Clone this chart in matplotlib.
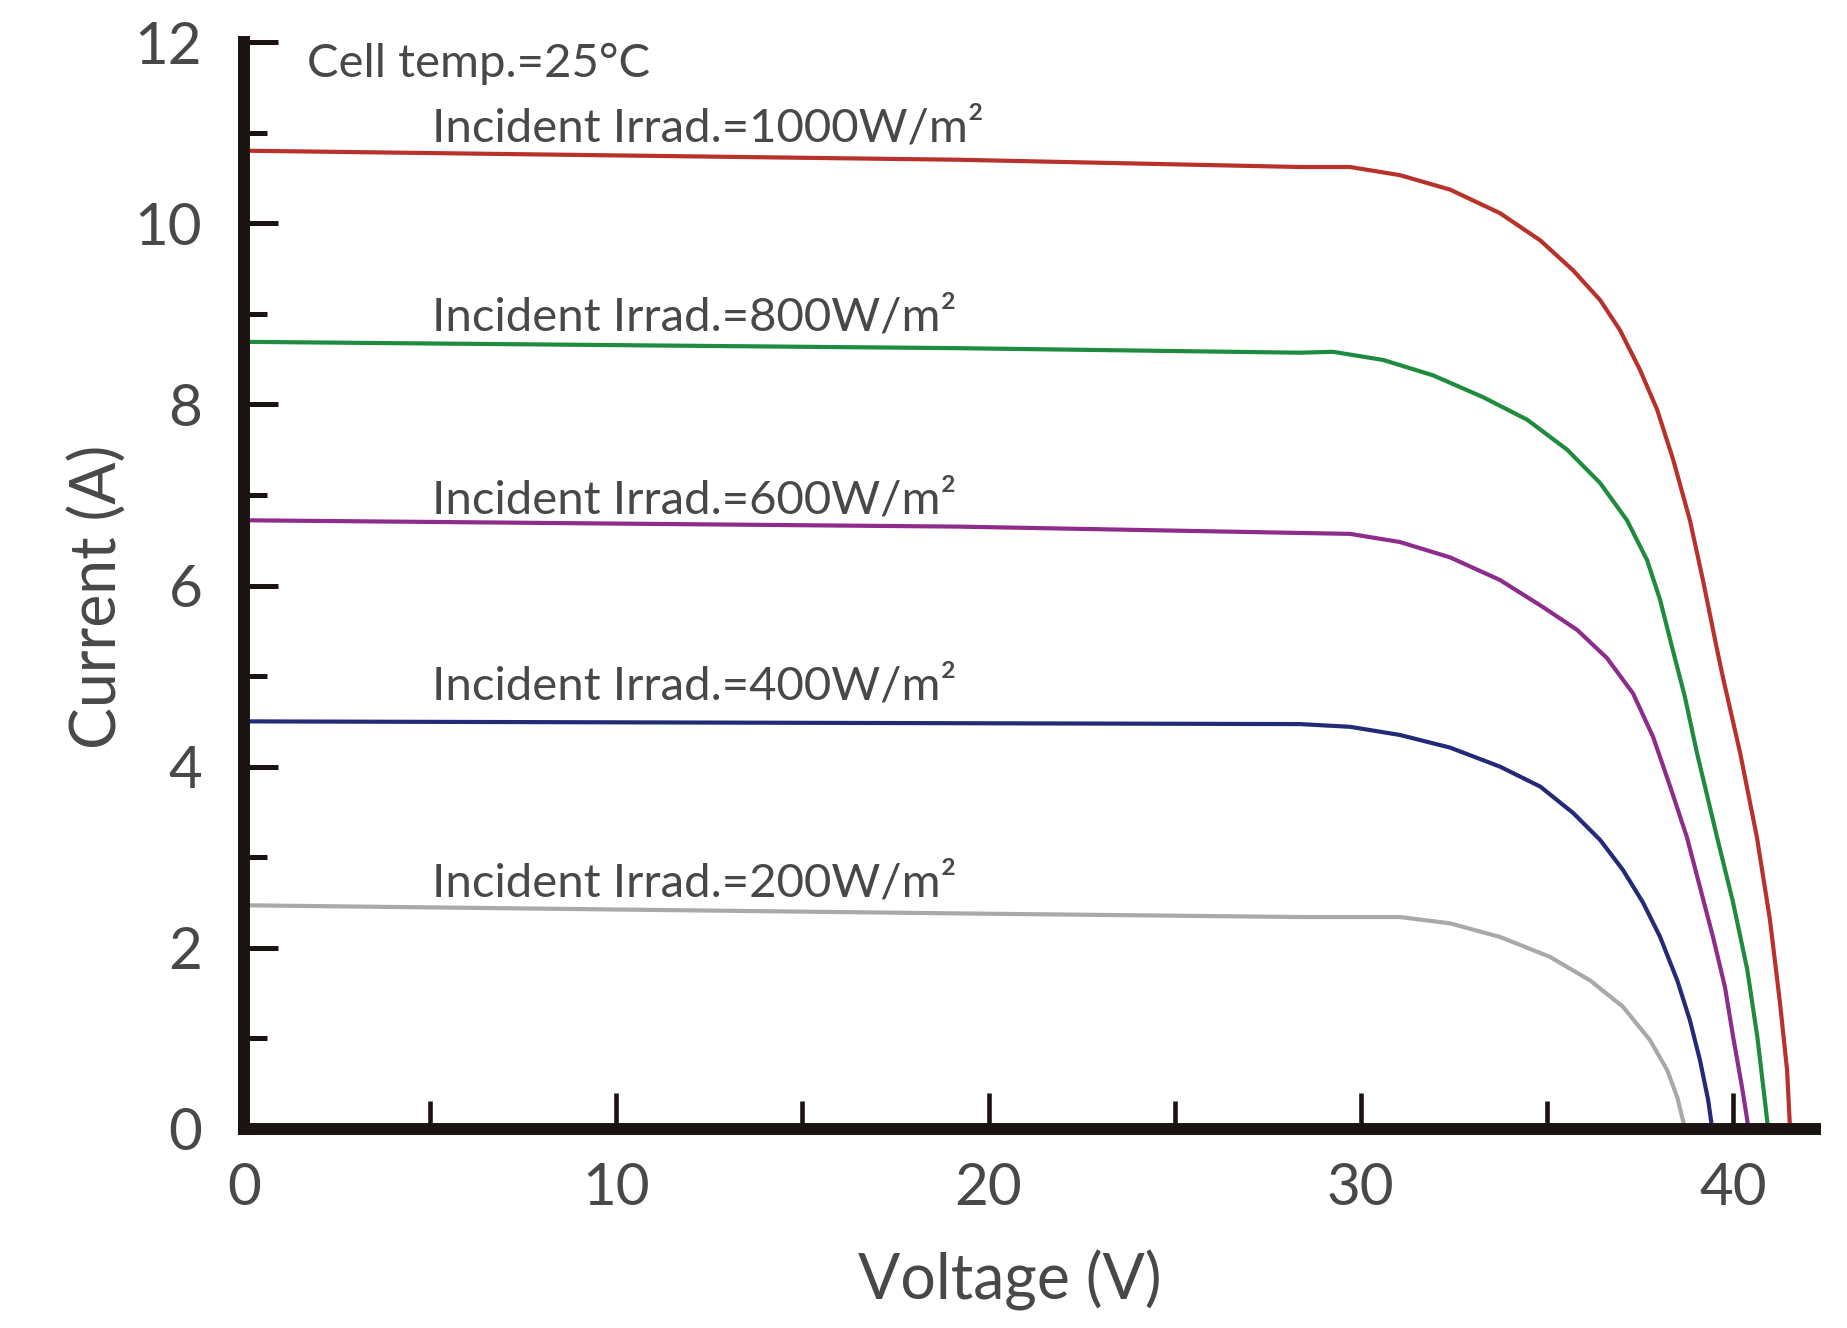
import matplotlib
matplotlib.use("Agg")
import matplotlib.pyplot as plt

# I-V curves of a PV module at 25 C
v_1000 = [0, 19.2, 28.37, 29.71, 31.05, 32.4, 33.74, 34.82, 35.7, 36.43, 36.96, 37.5, 37.96, 38.39,
          38.84, 39.19, 39.57, 39.73, 40.19, 40.64, 40.99, 41.26, 41.45, 41.53]
i_1000 = [10.8, 10.7, 10.62, 10.62, 10.53, 10.37, 10.11, 9.81, 9.48, 9.15, 8.82, 8.38, 7.94, 7.39,
          6.72, 6.06, 5.29, 4.98, 4.15, 3.22, 2.31, 1.39, 0.65, 0]

v_800 = [0, 19.2, 28.37, 29.25, 30.6, 31.94, 33.28, 34.47, 35.54, 36.43, 37.15, 37.69, 38.04, 38.36,
         38.7, 39.03, 39.57, 40.0, 40.38, 40.65, 40.86, 40.94]
i_800 = [8.69, 8.62, 8.57, 8.58, 8.49, 8.32, 8.08, 7.83, 7.5, 7.13, 6.72, 6.28, 5.84, 5.32,
         4.78, 4.15, 3.22, 2.5, 1.76, 1.02, 0.29, 0]

v_600 = [0, 19.2, 28.37, 29.71, 31.05, 32.4, 33.74, 34.9, 35.81, 36.61, 37.31, 37.85, 38.31, 38.76,
         39.11, 39.46, 39.78, 40.0, 40.24, 40.38, 40.4]
i_600 = [6.72, 6.65, 6.58, 6.57, 6.48, 6.31, 6.06, 5.76, 5.51, 5.2, 4.81, 4.33, 3.78, 3.22,
         2.67, 2.12, 1.57, 1.02, 0.46, 0.1, 0]

v_400 = [0, 28.37, 29.71, 31.05, 32.4, 33.74, 34.82, 35.7, 36.43, 37.04, 37.58, 38.04, 38.5, 38.84,
         39.11, 39.33, 39.44]
i_400 = [4.5, 4.47, 4.44, 4.35, 4.21, 4.0, 3.78, 3.49, 3.19, 2.86, 2.5, 2.12, 1.64, 1.2,
         0.76, 0.32, 0]

v_200 = [0, 19.2, 28.37, 31.05, 32.4, 33.74, 35.08, 36.16, 37.04, 37.77, 38.23, 38.5, 38.71]
i_200 = [2.47, 2.38, 2.34, 2.34, 2.27, 2.12, 1.9, 1.64, 1.35, 0.98, 0.65, 0.35, 0]

labels = ["Incident Irrad.=1000W/m²", "Incident Irrad.=800W/m²", "Incident Irrad.=600W/m²",
          "Incident Irrad.=400W/m²", "Incident Irrad.=200W/m²"]
label_y = [10.9, 8.82, 6.79, 4.74, 2.57]
colors = ["#b8312a", "#1e8b3e", "#8e2c8c", "#232a78", "#a9a9a9"]

x_ticks = [0, 10, 20, 30, 40]
x_minor = [5, 15, 25, 35]
y_ticks = [0, 2, 4, 6, 8, 10, 12]
y_minor = [1, 3, 5, 7, 9, 11]

plt.rcParams['font.family'] = ['Lato', 'DejaVu Sans']
txt = "#484848"
axc = "#1b1212"

fig = plt.figure(figsize=(18.47, 13.28), dpi=100)
ax = fig.add_axes([244 / 1847, 199 / 1328, 1571 / 1847, 1087 / 1328])

curves = [(v_1000, i_1000), (v_800, i_800), (v_600, i_600), (v_400, i_400), (v_200, i_200)]
for (v, i), c in zip(curves, colors):
    ax.plot(v, i, color=c, lw=3.0, solid_joinstyle='round', solid_capstyle='butt', zorder=3)

for lab, y in zip(labels, label_y):
    ax.text(5.05, y, lab, fontsize=34, color=txt, va='baseline', ha='left')
ax.text(1.69, 11.61, "Cell temp.=25°C", fontsize=34, color=txt, va='baseline', ha='left')

ax.set_xlim(0, 42.2)
ax.set_ylim(0, 12)
for s in ["top", "right"]:
    ax.spines[s].set_visible(False)
for s in ["left", "bottom"]:
    ax.spines[s].set_linewidth(8.6)
    ax.spines[s].set_color(axc)
    ax.spines[s].set_capstyle('projecting')
    ax.spines[s].set_zorder(4)

ax.set_xticks(x_ticks)
ax.set_xticks(x_minor, minor=True)
ax.set_yticks(y_ticks)
ax.set_yticks(y_minor, minor=True)
ax.tick_params(axis='both', which='both', direction='in', color=axc, labelcolor=txt)
ax.tick_params(axis='x', which='major', length=26, width=3.3, pad=24, labelsize=42)
ax.tick_params(axis='x', which='minor', length=20, width=3.3)
ax.tick_params(axis='y', which='major', length=24.5, width=3.6, pad=30, labelsize=42)
ax.tick_params(axis='y', which='minor', length=16.5, width=3.6)

ax.set_xlabel("Voltage (V)", fontsize=45, color=txt)
ax.xaxis.label.set_va('center')
ax.xaxis.set_label_coords(0.4876, -0.139)
ax.set_ylabel("Current (A)", fontsize=45, color=txt)
ax.yaxis.label.set_va('center')
ax.yaxis.set_label_coords(-0.093, 0.49)

fig.savefig("out.png", dpi=100, facecolor="white")
